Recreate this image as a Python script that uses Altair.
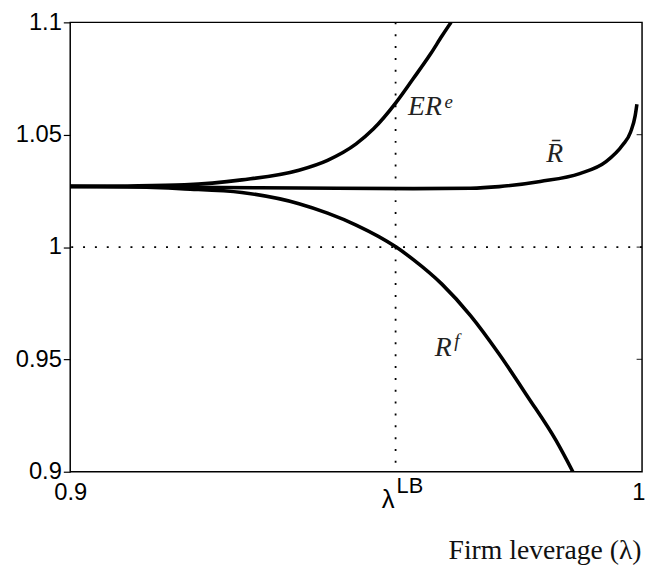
import altair as alt
import pandas as pd

# ---------------- data ----------------
x_lb = 0.9569  # lambda^LB

x_ere = [0.900, 0.910, 0.920, 0.930, 0.940, 0.945, 0.950, 0.953, 0.957, 0.960, 0.963, 0.965, 0.9666]
y_ere = [1.0270, 1.0272, 1.0277, 1.0299, 1.0342, 1.0386, 1.0459, 1.0525, 1.0644, 1.0750, 1.0859, 1.0939, 1.1000]

x_rbar = [0.900, 0.920, 0.940, 0.960, 0.970, 0.975, 0.9822, 0.9891, 0.9937, 0.9966, 0.9980, 0.9988, 0.9991]
y_rbar = [1.0270, 1.0266, 1.0263, 1.0260, 1.0262, 1.0269, 1.0292, 1.0327, 1.0380, 1.0454, 1.0512, 1.0585, 1.0636]

x_rf = [0.900, 0.910, 0.920, 0.930, 0.940, 0.945, 0.950, 0.957, 0.960, 0.965, 0.970, 0.975, 0.980, 0.985, 0.9879]
y_rf = [1.0270, 1.0268, 1.0259, 1.0243, 1.0193, 1.0151, 1.0098, 1.0000, 0.9944, 0.9835, 0.9695, 0.9524, 0.9334, 0.9137, 0.9000]

y_ticks = [0.9, 0.95, 1.0, 1.05, 1.1]
x_ticks = [0.9, x_lb, 1.0]

label_main_text = ["ER", "R\u0304", "R"]
label_main_x = [0.95907, 0.98325, 0.96373]
label_main_y = [1.05855, 1.03802, 0.95156]

label_sup_text = ["e", "f"]
label_sup_x = [0.96545, 0.96715]
label_sup_y = [1.0618, 0.9555]

# ---------------- tables ----------------
rows = []
for name, xs, ys in [("ERe", x_ere, y_ere), ("Rbar", x_rbar, y_rbar), ("Rf", x_rf, y_rf)]:
    for i, (a, b) in enumerate(zip(xs, ys)):
        rows.append({"series": name, "order": i, "x": a, "y": b})
curves = pd.DataFrame(rows)

main_df = pd.DataFrame({"x": label_main_x, "y": label_main_y, "t": label_main_text})
sup_df = pd.DataFrame({"x": label_sup_x, "y": label_sup_y, "t": label_sup_text})
lb_df = pd.DataFrame({"x": [x_lb], "y": [0.9]})
vline_df = pd.DataFrame({"x": [x_lb]})
hline_df = pd.DataFrame({"y": [1.0]})
rtick_df = pd.DataFrame({"x": [1.0] * len(y_ticks), "y": y_ticks})

xscale = alt.Scale(domain=[0.9, 1.0], nice=False, zero=False)
yscale = alt.Scale(domain=[0.9, 1.1], nice=False, zero=False)

x_axis = alt.Axis(
    values=x_ticks,
    labelExpr="datum.value == 0.9 ? '0.9' : (datum.value == 1 ? '1' : '')",
    labelAlign=alt.condition("datum.value == 1", alt.value("right"), alt.value("center")),
    labelOffset=alt.condition("datum.value == 1", alt.value(3), alt.value(0)),
    ticks=False, domain=False, grid=False,
    labelFont="Liberation Sans", labelFontSize=24, labelColor="black",
    labelPadding=9, labelFlush=False, labelOverlap=False,
    title="Firm leverage (\u03bb)", titleFont="Liberation Serif", titleFontWeight="normal",
    titleFontSize=28, titleColor="#111111", titleAnchor="end", titleAlign="right",
    titleX=578, titleY=88, titleBaseline="alphabetic",
)
y_axis = alt.Axis(
    values=y_ticks, labelExpr="toString(datum.value)",
    ticks=True, tickSize=7, tickColor="black", tickWidth=1.2,
    domain=False, grid=False,
    labelFont="Liberation Sans", labelFontSize=24, labelColor="black",
    labelPadding=2, labelFlush=False, labelOverlap=False, title=None,
)

hline = alt.Chart(hline_df).mark_rule(color="black", strokeWidth=1.8, strokeDash=[2, 10]).encode(
    y=alt.Y("y:Q", scale=yscale, axis=y_axis)
)
vline = alt.Chart(vline_df).mark_rule(color="black", strokeWidth=1.8, strokeDash=[2, 10]).encode(
    x=alt.X("x:Q", scale=xscale, axis=x_axis)
)

lines = alt.Chart(curves).mark_line(
    color="black", strokeWidth=3.6, interpolate="monotone", clip=True
).encode(
    x=alt.X("x:Q", scale=xscale, axis=x_axis),
    y=alt.Y("y:Q", scale=yscale, axis=y_axis),
    detail="series:N",
    order="order:Q",
)

rticks = alt.Chart(rtick_df).mark_tick(
    orient="horizontal", color="black", size=11, thickness=1.2, clip=True
).encode(x=alt.X("x:Q", scale=xscale), y=alt.Y("y:Q", scale=yscale))

main_lbl = alt.Chart(main_df).mark_text(
    font="Liberation Serif", fontStyle="italic", fontSize=28, align="left",
    baseline="alphabetic", color="#222222"
).encode(x=alt.X("x:Q", scale=xscale), y=alt.Y("y:Q", scale=yscale), text="t:N")

sup_lbl = alt.Chart(sup_df).mark_text(
    font="Liberation Serif", fontStyle="italic", fontSize=19, align="left",
    baseline="alphabetic", color="#222222"
).encode(x=alt.X("x:Q", scale=xscale), y=alt.Y("y:Q", scale=yscale), text="t:N")

lam = alt.Chart(lb_df).mark_text(
    text="\u03bb", font="Liberation Sans", fontSize=26, align="right",
    baseline="alphabetic", dx=-1, dy=37, color="black"
).encode(x=alt.X("x:Q", scale=xscale), y=alt.Y("y:Q", scale=yscale))

lbsup = alt.Chart(lb_df).mark_text(
    text="LB", font="Liberation Sans", fontSize=22, align="left",
    baseline="alphabetic", dx=1, dy=22, color="black"
).encode(x=alt.X("x:Q", scale=xscale), y=alt.Y("y:Q", scale=yscale))

chart = alt.layer(hline, vline, lines, rticks, main_lbl, sup_lbl, lam, lbsup).properties(
    width=579, height=455,
    padding={"left": 63, "top": 11, "right": 4, "bottom": 100},
    autosize=alt.AutoSizeParams(type="none"),
    background="white",
).configure_view(stroke="black", strokeWidth=1.5)

chart.save("out.html", embed_options={"renderer": "svg", "actions": False})
